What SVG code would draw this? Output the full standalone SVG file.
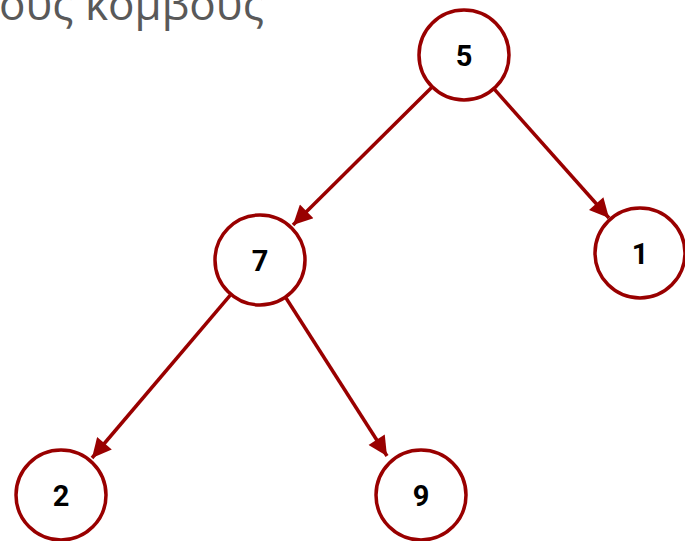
<svg xmlns="http://www.w3.org/2000/svg" width="685" height="541" viewBox="0 0 685 541">
<defs>
<style>
.node circle{fill:#fff;stroke:#990000;stroke-width:3.5}
.node text{font-family:Roboto,"Liberation Sans",sans-serif;font-weight:bold;font-size:29px;fill:#000;text-anchor:middle;dominant-baseline:central}
.edge{stroke:#990000;stroke-width:3.5;fill:none;marker-end:url(#arr)}
.title{font-family:"Open Sans","Noto Sans",sans-serif;font-size:44px;fill:#595959}
</style>
<marker id="arr" viewBox="0 0 10 10" refX="10" refY="5" markerWidth="6.5" markerHeight="5.5" markerUnits="strokeWidth" orient="auto">
<path d="M0,0 L10,5 L0,10 z" fill="#990000"/>
</marker>
</defs>
<text class="title" x="-1" y="20">ους κόμβους</text>
<g id="connectors">
<line class="edge" x1="431.6" y1="87.6" x2="293" y2="225"/>
<line class="edge" x1="494.5" y1="89.4" x2="609" y2="218"/>
<line class="edge" x1="230.3" y1="295.1" x2="92" y2="458"/>
<line class="edge" x1="286" y1="298" x2="387" y2="456"/>
</g>
<g id="n5" class="node"><circle cx="464" cy="55" r="45"/><text x="464" y="56">5</text></g>
<g id="n7" class="node"><circle cx="260" cy="260" r="45"/><text x="260" y="261">7</text></g>
<g id="n1" class="node"><circle cx="640" cy="253" r="45"/><text x="640" y="254">1</text></g>
<g id="n2" class="node"><circle cx="61" cy="495" r="45"/><text x="61" y="496">2</text></g>
<g id="n9" class="node"><circle cx="421" cy="495" r="45"/><text x="421" y="496">9</text></g>
</svg>
